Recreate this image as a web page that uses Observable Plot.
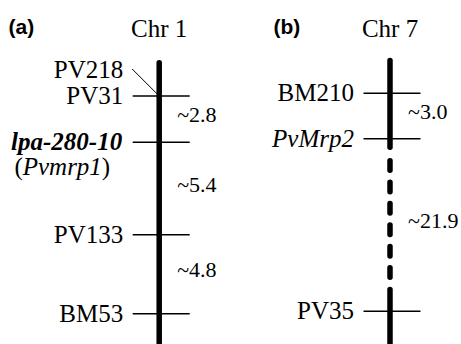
<!DOCTYPE html>
<html><head><meta charset="utf-8">
<script src="https://cdn.jsdelivr.net/npm/d3@7"></script>
<script src="https://cdn.jsdelivr.net/npm/@observablehq/plot@0.6"></script>
<style>
html,body{margin:0;padding:0;background:#fff;}
#chart svg{display:block;}
</style>
</head><body><div id="chart"></div>
<script>
// ---------------- data ----------------
const chromosomes = ["Chr 1", "Chr 7"];
const panelLabels = ["(a)", "(b)"];

// markers: name, chromosome, drawn map position (0 = top marker level)
const markerNames = ["PV218", "PV31", "lpa-280-10", "PV133", "BM53", "BM210", "PvMrp2", "PV35"];
const markerChrom = ["Chr 1", "Chr 1", "Chr 1", "Chr 1", "Chr 1", "Chr 7", "Chr 7", "Chr 7"];
const markerPos   = [0, 0, 46.2, 138.8, 217.8, -2.8, 42.8, 215.2];
const markerAlias = ["", "", "(Pvmrp1)", "", "", "", "", ""];
const italicMarkers = ["PvMrp2"];
const boldItalicMarkers = ["lpa-280-10"];

// intervals between adjacent markers (distance labels, cM)
const intervalFrom = ["PV31", "lpa-280-10", "PV133", "BM210", "PvMrp2"];
const intervalTo   = ["lpa-280-10", "PV133", "BM53", "PvMrp2", "PV35"];
const intervalText = ["~2.8", "~5.4", "~4.8", "~3.0", "~21.9"];

// chromosome bar segments (drawn map position); dashed = unlinked gap
const segChrom  = ["Chr 1", "Chr 7", "Chr 7", "Chr 7"];
const segStart  = [-32.8, -35, 65.3, 194];
const segEnd    = [248.5, 51.8, 181.8, 248.5];
const segDashed = [false, false, true, false];

// ---------------- layout ----------------
const W = 461, H = 344;
const X0 = 158.7, X1 = 389.5;          // pixel centres of the two chromosomes
const PX = 1 / (X1 - X0);              // one pixel in x units
const serif = "Liberation Serif, Times New Roman, Times, serif";
const sans = "Liberation Sans, Arial, Helvetica, sans-serif";

const chrIndex = new Map(chromosomes.map((c, i) => [c, i]));
const markers = markerNames.map((name, i) => ({
  name, chrom: markerChrom[i], pos: markerPos[i], alias: markerAlias[i], i: chrIndex.get(markerChrom[i])
}));
// co-located markers: raise the earlier label one line
markers.forEach((m, k) => {
  const next = markers[k + 1];
  m.raised = !!(next && next.chrom === m.chrom && next.pos === m.pos);
  m.labelPos = m.raised ? m.pos - 26 : m.pos;
});
const byName = new Map(markers.map(m => [m.name, m]));
const intervals = intervalFrom.map((f, k) => {
  const a = byName.get(f), b = byName.get(intervalTo[k]);
  return {i: a.i, mid: (a.pos + b.pos) / 2, text: intervalText[k]};
});
const segments = segChrom.map((c, k) => ({i: chrIndex.get(c), y1: segStart[k], y2: segEnd[k], dashed: segDashed[k]}));
const titles = chromosomes.map((c, i) => ({i, text: c}));

const isItalic = m => italicMarkers.includes(m.name);
const isBoldItalic = m => boldItalicMarkers.includes(m.name);
const FS = 25;

const chart = Plot.plot({
  width: W, height: H,
  margin: 0,
  x: {domain: [0, 1], range: [X0, X1], axis: null},
  y: {domain: [-95.5, 248.5], range: [0, H], axis: null},
  style: {background: "#fff", overflow: "hidden", fontFamily: serif},
  marks: [
    // chromosome bars
    Plot.ruleX(segments.filter(d => !d.dashed), {x: "i", y1: "y1", y2: "y2", stroke: "#000", strokeWidth: 5.5, strokeLinecap: "round"}),
    Plot.ruleX(segments.filter(d => d.dashed), {x: "i", y1: "y1", y2: "y2", stroke: "#000", strokeWidth: 5.5, strokeLinecap: "round", strokeDasharray: "9.5,11.9"}),
    // marker ticks
    Plot.ruleY(markers.filter(m => !m.raised), {y: "pos", x1: d => d.i - 26 * PX, x2: d => d.i + 31 * PX, stroke: "#000", strokeWidth: 1.4}),
    // leader line for raised labels
    Plot.link(markers.filter(m => m.raised), {
      x1: d => d.i - 27 * PX, y1: d => d.labelPos - 1,
      x2: d => d.i - 2 * PX, y2: d => d.pos - 2,
      stroke: "#000", strokeWidth: 1
    }),
    // marker labels
    Plot.text(markers.filter(m => !isItalic(m) && !isBoldItalic(m)), {x: "i", y: "labelPos", text: "name", textAnchor: "end", dx: -36, fontSize: FS, fontFamily: serif, fill: "#000"}),
    Plot.text(markers.filter(isItalic), {x: "i", y: "labelPos", text: "name", textAnchor: "end", dx: -36, fontSize: FS, fontFamily: serif, fontStyle: "italic", fill: "#000"}),
    Plot.text(markers.filter(isBoldItalic), {x: "i", y: "labelPos", text: "name", textAnchor: "end", dx: -37, fontSize: FS, fontFamily: serif, fontStyle: "italic", fontWeight: "bold", fill: "#000"}),
    Plot.text(markers.filter(m => m.alias), {x: "i", y: "labelPos", text: "alias", textAnchor: "end", dx: -49, dy: 25, fontSize: FS, fontFamily: serif, fill: "#000"}),
    // interval distances
    Plot.text(intervals, {x: "i", y: "mid", text: "text", textAnchor: "start", dx: 18, dy: -4, fontSize: 22, fontFamily: serif, fill: "#000"}),
    // chromosome titles
    Plot.text(titles, {x: "i", text: "text", frameAnchor: "top", lineAnchor: "middle", dy: 28, fontSize: 25, fontFamily: serif, fill: "#000"}),
    // panel labels
    Plot.text([panelLabels[0]], {frameAnchor: "top-left", lineAnchor: "middle", textAnchor: "start", dx: 8, dy: 27, text: d => d, fontSize: 21, fontWeight: "bold", fontFamily: sans, fill: "#000"}),
    Plot.text([{i: 1, t: panelLabels[1]}], {x: "i", frameAnchor: "top", lineAnchor: "middle", textAnchor: "start", dx: -116.5, dy: 27, text: "t", fontSize: 21, fontWeight: "bold", fontFamily: sans, fill: "#000"})
  ]
});

// italicise the gene name inside the alias parentheses
chart.querySelectorAll("text").forEach(t => {
  const s = t.textContent;
  const m = /^\((.+)\)$/.exec(s);
  if (m && markerAlias.includes(s)) {
    const target = t.querySelector("tspan") || t;
    target.textContent = "";
    target.appendChild(document.createTextNode("("));
    const it = document.createElementNS("http://www.w3.org/2000/svg", "tspan");
    it.setAttribute("font-style", "italic");
    it.textContent = m[1];
    target.appendChild(it);
    target.appendChild(document.createTextNode(")"));
  }
});

document.getElementById("chart").appendChild(chart);
</script>
</body></html>
